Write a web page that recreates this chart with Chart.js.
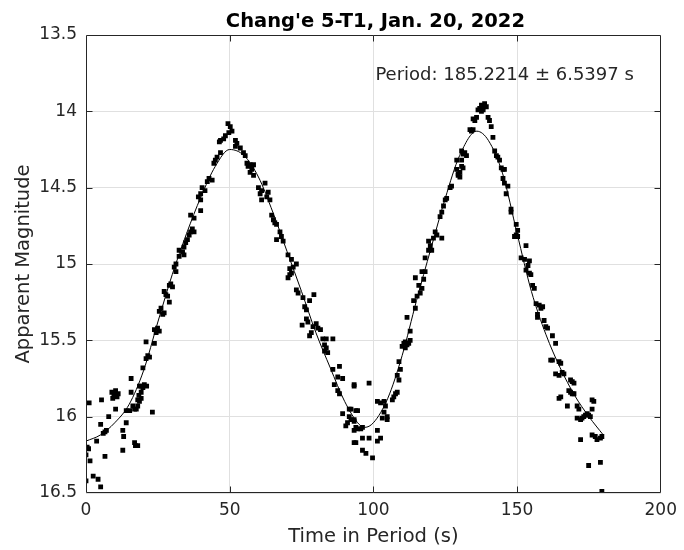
<!DOCTYPE html>
<html><head><meta charset="utf-8">
<script src="https://cdn.jsdelivr.net/npm/chart.js@4"></script>
<style>html,body{margin:0;padding:0;background:#fff}</style>
</head><body>
<canvas id="c" width="684" height="550"></canvas>
<script>
const chartTitle = "Chang'e 5-T1, Jan. 20, 2022";
const xLabel = "Time in Period (s)";
const yLabel = "Apparent Magnitude";
const periodText = "Period: 185.2214 \u00b1 6.5397 s";
const xTicks = [0, 50, 100, 150, 200];
const yTicks = [13.5, 14, 14.5, 15, 15.5, 16, 16.5];

const obsTime = [0.0,0.0,0.4,0.9,1.1,1.4,2.5,3.7,4.2,5.1,5.1,5.4,6.0,6.6,6.6,7.1,7.9,9.0,9.3,9.7,10.3,10.3,10.8,11.2,12.8,12.8,13.1,14.0,14.0,15.2,15.7,15.7,16.3,16.9,16.9,17.2,17.5,18.0,18.0,18.0,18.4,18.6,18.6,19.2,19.2,19.2,19.8,19.8,20.3,20.9,20.9,21.1,21.5,22.1,23.1,23.8,23.8,24.4,24.9,25.5,25.5,26.1,26.7,27.2,27.2,27.8,28.4,29.0,29.0,29.5,30.1,30.7,31.3,31.3,32.4,32.4,33.6,34.1,34.1,34.7,35.3,35.9,36.4,37.0,37.6,36.4,37.6,39.9,39.1,39.9,39.9,40.4,41.4,42.2,42.8,43.9,44.5,45.0,45.6,46.8,46.4,46.8,47.9,48.5,49.7,50.8,49.4,50.2,52.0,52.5,52.0,53.7,54.8,55.4,56.0,56.4,57.1,58.3,57.7,57.1,58.3,60.0,60.6,61.1,61.1,62.3,62.9,63.4,64.0,64.6,65.2,65.7,66.3,66.3,67.5,68.0,68.6,70.3,70.9,70.9,70.3,71.5,71.5,72.1,73.2,73.2,73.8,75.2,75.5,76.1,76.7,76.7,77.2,77.8,77.8,78.4,79.0,79.3,80.1,80.7,81.6,82.4,83.0,83.0,83.6,83.6,84.1,85.9,85.9,86.4,87.6,87.6,88.2,88.2,89.3,89.3,90.4,91.0,91.6,91.6,92.2,92.2,93.3,93.3,93.3,93.3,93.3,93.3,93.9,93.9,93.9,94.5,94.5,95.6,96.2,96.2,96.2,97.4,98.5,98.5,99.7,101.4,101.4,101.4,102.5,102.5,103.1,103.7,103.7,104.2,104.8,104.8,106.6,107.1,107.7,108.3,108.3,108.9,108.9,109.4,110.0,110.6,111.1,111.1,111.7,111.7,112.3,112.8,112.8,114.0,114.6,114.6,115.2,115.8,116.3,116.9,116.9,117.5,118.0,118.0,119.2,119.2,119.8,120.3,120.9,121.5,122.1,123.2,123.8,123.8,124.4,125.0,125.5,126.7,127.2,129.0,129.0,129.5,129.5,130.1,130.1,130.7,130.7,130.7,131.2,131.2,131.8,132.4,133.6,134.1,134.7,134.7,135.3,135.9,136.4,137.0,137.6,137.6,138.2,138.2,138.7,139.3,139.9,140.4,141.0,141.6,142.2,142.8,143.3,143.9,144.5,145.1,145.1,145.6,145.6,146.2,146.8,147.9,147.9,149.1,149.7,149.7,150.2,150.2,151.4,152.6,153.1,153.1,153.8,154.3,154.3,154.8,155.4,156.0,156.6,157.1,157.1,157.7,158.3,158.9,159.4,160.0,160.6,161.7,162.3,162.3,163.4,163.4,164.6,164.6,164.6,165.2,165.2,165.7,166.3,167.5,168.0,168.6,168.6,169.2,169.2,169.8,169.8,170.9,170.9,171.5,172.1,172.1,172.6,173.2,173.8,174.4,174.9,174.9,175.5,176.1,176.1,176.1,176.7,177.2,177.8,179.0,179.0,179.5,179.5];
const obsMag = [16.42,16.25,16.20,16.21,15.91,16.29,16.39,16.16,16.41,16.46,16.05,15.89,16.11,16.26,16.10,16.09,16.00,15.84,15.88,15.86,15.83,15.95,15.87,15.85,16.09,16.22,16.13,16.04,15.96,15.96,15.84,15.75,15.93,15.95,16.17,16.19,15.95,16.19,15.93,15.89,15.86,15.80,15.90,15.84,15.88,15.80,15.81,15.68,15.79,15.62,15.51,15.80,15.60,15.61,15.97,15.43,15.52,15.45,15.42,15.44,15.31,15.29,15.33,15.32,15.18,15.20,15.21,15.25,15.14,15.13,15.15,15.02,15.00,15.05,14.91,14.95,14.92,14.89,14.94,14.86,14.84,14.81,14.79,14.77,14.79,14.68,14.70,14.65,14.56,14.58,14.54,14.50,14.52,14.46,14.44,14.45,14.34,14.32,14.30,14.27,14.20,14.19,14.18,14.16,14.14,14.13,14.08,14.10,14.19,14.21,14.23,14.24,14.27,14.29,14.34,14.36,14.35,14.35,14.38,14.40,14.42,14.50,14.54,14.52,14.58,14.47,14.56,14.53,14.58,14.68,14.71,14.73,14.74,14.84,14.79,14.82,14.85,14.94,15.03,15.07,15.09,14.97,15.06,15.02,15.00,15.17,15.19,15.40,15.22,15.28,15.30,15.36,15.38,15.24,15.47,15.45,15.41,15.20,15.39,15.42,15.43,15.49,15.53,15.57,15.49,15.55,15.58,15.49,15.69,15.79,15.74,15.83,15.67,15.85,15.75,15.98,16.06,16.04,15.95,16.00,15.95,16.02,15.80,15.79,16.02,16.03,16.09,16.17,15.96,16.07,16.17,15.96,16.08,16.08,16.07,16.14,16.22,16.24,15.78,16.14,16.27,15.90,16.09,16.16,15.91,16.14,16.01,15.90,15.97,15.93,16.00,16.02,15.89,15.87,15.85,15.84,15.73,15.76,15.64,15.69,15.54,15.52,15.51,15.55,15.53,15.35,15.52,15.50,15.44,15.24,15.29,15.09,15.21,15.14,15.19,15.16,15.05,15.10,15.05,14.96,14.91,14.85,14.88,14.91,14.83,14.79,14.81,14.69,14.66,14.83,14.62,14.58,14.57,14.50,14.49,14.38,14.32,14.42,14.41,14.40,14.43,14.36,14.32,14.26,14.37,14.28,14.27,14.29,14.12,14.13,14.12,14.05,14.06,14.04,13.99,13.98,13.96,14.00,13.97,13.99,13.95,13.97,14.04,14.06,14.10,14.17,14.26,14.29,14.30,14.32,14.37,14.38,14.44,14.38,14.47,14.54,14.49,14.64,14.66,14.82,14.74,14.81,14.78,14.82,14.96,14.97,14.88,15.04,15.01,14.98,15.06,15.07,15.14,15.16,15.26,15.33,15.35,15.27,15.29,15.28,15.37,15.41,15.42,15.63,15.47,15.63,15.52,15.72,15.64,15.73,15.88,15.65,15.87,15.71,15.72,15.93,15.83,15.76,15.84,15.77,15.85,15.78,15.85,15.93,16.01,15.95,16.02,16.15,16.01,16.00,15.99,15.98,15.99,16.32,16.00,15.89,15.95,16.12,15.90,16.13,16.15,16.14,16.30,16.13,16.49];

const fitTime = [0,5,10,15,20,25,30,35,40,45,50,55,60,65,70,75,80,85,90,95,97,100,105,110,115,120,125,130,136,140,145,150,155,160,165,170,175,180];
const fitMag  = [16.16,16.12,16.04,15.92,15.70,15.38,15.07,14.80,14.56,14.36,14.25,14.29,14.43,14.66,14.92,15.18,15.45,15.68,15.90,16.05,16.07,16.04,15.88,15.60,15.24,14.90,14.57,14.29,14.13,14.19,14.41,14.80,15.18,15.46,15.68,15.86,16.00,16.12];

const FONT = 'DejaVu Sans';
const TXT = '#262626';

const decor = {
  id: 'decor',
  afterDraw(chart) {
    const {ctx, chartArea: a, scales: {x, y}} = chart;
    ctx.save();
    ctx.strokeStyle = TXT;
    ctx.lineWidth = 1;
    const L = Math.round(a.left) + 0.5, R = Math.round(a.right) - 0.5;
    const T = Math.round(a.top) + 0.5, B = Math.round(a.bottom) - 0.5;
    ctx.beginPath();
    ctx.rect(L, T, R - L, B - T);
    xTicks.slice(1, -1).forEach(v => {
      const px = Math.round(x.getPixelForValue(v)) + 0.5;
      ctx.moveTo(px, B); ctx.lineTo(px, B - 6);
      ctx.moveTo(px, T); ctx.lineTo(px, T + 6);
    });
    yTicks.slice(1, -1).forEach(v => {
      const py = Math.round(y.getPixelForValue(v)) + 0.5;
      ctx.moveTo(L, py); ctx.lineTo(L + 6, py);
      ctx.moveTo(R, py); ctx.lineTo(R - 6, py);
    });
    ctx.stroke();
    ctx.fillStyle = '#000';
    ctx.font = 'bold 19.5px "' + FONT + '"';
    ctx.textAlign = 'center';
    ctx.textBaseline = 'alphabetic';
    ctx.fillText(chartTitle, (a.left + a.right) / 2 + 2, 27);
    ctx.fillStyle = TXT;
    ctx.font = '18px "' + FONT + '"';
    ctx.textAlign = 'left';
    ctx.fillText(periodText, x.getPixelForValue(100.7), y.getPixelForValue(13.795));
    ctx.restore();
  }
};

new Chart(document.getElementById('c'), {
  type: 'scatter',
  data: {
    datasets: [
      {
        type: 'line',
        data: fitTime.map((t, i) => ({x: t, y: fitMag[i]})),
        borderColor: '#000',
        borderWidth: 1,
        pointRadius: 0,
        fill: false,
        cubicInterpolationMode: 'monotone'
      },
      {
        data: obsTime.map((t, i) => ({x: t, y: obsMag[i]})),
        pointStyle: 'rect',
        pointRadius: 3.4,
        backgroundColor: '#000',
        borderWidth: 0
      }
    ]
  },
  options: {
    responsive: false,
    animation: false,
    devicePixelRatio: 1,
    layout: {padding: {top: 35, right: 18, bottom: 0, left: 0}},
    plugins: {legend: {display: false}, tooltip: {enabled: false}},
    scales: {
      x: {
        type: 'linear', min: 0, max: 200,
        afterBuildTicks: s => { s.ticks = xTicks.map(v => ({value: v})); },
        afterFit: s => { s.height = 57; },
        grid: {color: '#e0e0e0', drawTicks: false},
        border: {display: false},
        ticks: {color: TXT, font: {family: FONT, size: 17}, padding: 7, maxRotation: 0, autoSkip: false,
                callback: v => String(v)},
        title: {display: true, text: xLabel, color: TXT, font: {family: FONT, size: 19.5}, padding: {top: 0, bottom: 1}}
      },
      y: {
        type: 'linear', min: 13.5, max: 16.5, reverse: true,
        afterBuildTicks: s => { s.ticks = yTicks.map(v => ({value: v})); },
        afterFit: s => { s.width = 86; },
        grid: {color: '#e0e0e0', drawTicks: false},
        border: {display: false},
        ticks: {color: TXT, font: {family: FONT, size: 17}, padding: 9, autoSkip: false,
                callback: v => String(v)},
        title: {display: true, text: yLabel, color: TXT, font: {family: FONT, size: 19.5}, padding: {top: 12, bottom: 0}}
      }
    }
  },
  plugins: [decor]
});
</script>
</body></html>
